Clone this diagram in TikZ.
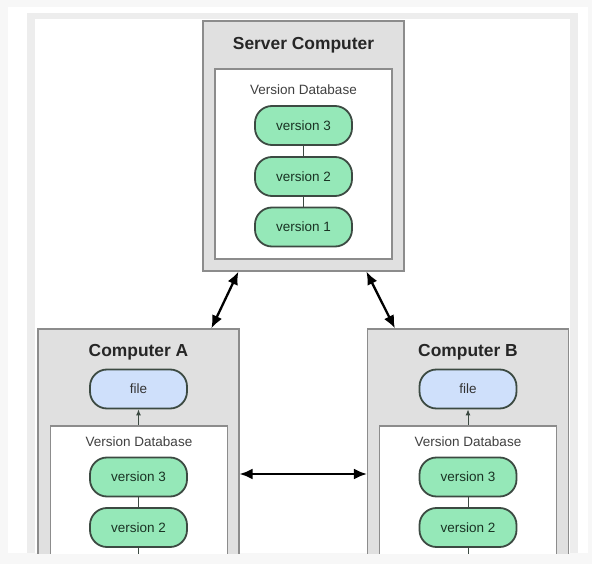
\documentclass[tikz,border=0pt]{standalone}
\usepackage{fontspec}
\setmainfont{Liberation Sans}
\usepackage{tikz}
\usetikzlibrary{arrows.meta}
\tikzset{>={Latex[length=13pt, width=11pt]}}
\definecolor{boxgray}{HTML}{E0E0E0}
\definecolor{edgegray}{HTML}{8C8C8C}
\definecolor{vergreen}{HTML}{95E8B8}
\definecolor{filblue}{HTML}{CFE0FB}
\definecolor{nodeedge}{HTML}{3C4A42}
\definecolor{vertext}{HTML}{1A3324}
\tikzset{
    machine/.style={draw=edgegray, fill=boxgray, line width=1.2pt, minimum width=201pt, inner sep=0pt},
    database/.style={draw=edgegray, fill=white, line width=1.2pt, minimum width=177pt, inner sep=0pt},
    version/.style={draw=nodeedge, fill=vergreen, text=vertext, line width=1.8pt, rounded corners=17pt,
        minimum width=97pt, minimum height=39pt, font=\fontsize{13.5}{15}\selectfont},
    workfile/.style={version, fill=filblue, text=black!80},
    title/.style={anchor=base, font=\fontsize{17.4}{20}\selectfont\bfseries, text=black!85},
    dblabel/.style={anchor=base, font=\fontsize{13.5}{15}\selectfont, text=black!75},
    sync/.style={<->, line width=2.3pt, black},
    link/.style={draw=nodeedge, line width=1pt},
}

\begin{document}
\begin{tikzpicture}[x=1pt, y=-1pt]
    \useasboundingbox(0, 0)rectangle(592, 564);
    % screen frame
    \fill[black!3](0, 0)rectangle(592, 564);
    \fill[white](8, 7)rectangle(588, 553);
    \fill[black!7](27, 13)rectangle(578, 553);
    \fill[white](35, 19)rectangle(570, 553);
    \begin{scope}
    \clip(0, 0)rectangle(592, 553);
    % server
    \node[machine, minimum height=250pt](srv)at(303.5, 146){};
    \node[database, minimum height=190pt](dbS)at(303.5, 164){};
    \node[title](tS)at(303.5, 50){Server Computer};
    \node[dblabel](lS)at(303.5, 94.7){Version Database};
    \node[version](S3)at(303.5, 125.5){version 3};
    \node[version](S2)at(303.5, 176.5){version 2};
    \node[version](S1)at(303.5, 227){version 1};
    \draw[link](S3)--(S2);
    \draw[link](S2)--(S1);
    % computer A
    \node[machine, minimum height=271pt](cmpA)at(138.5, 464.5){};
    \node[database, minimum height=174pt](dbA)at(139, 513){};
    \node[title](tA)at(138.5, 356.8){Computer A};
    \node[workfile](fA)at(138.5, 389){file};
    \node[dblabel](lA)at(139, 446.4){Version Database};
    \node[version](A3)at(138.5, 477){version 3};
    \node[version](A2)at(138.5, 527.5){version 2};
    \coordinate(A1)at(138.5, 560);
    \draw[link](A3)--(A2)--(A1);
    \draw[link, -{Latex[length=6pt, width=5pt]}](fA.south |- dbA.north)--(fA);
    % computer B
    \node[machine, minimum height=271pt](cmpB)at(468, 464.5){};
    \node[database, minimum height=174pt](dbB)at(468, 513){};
    \node[title](tB)at(468, 356.8){Computer B};
    \node[workfile](fB)at(468, 389){file};
    \node[dblabel](lB)at(468, 446.4){Version Database};
    \node[version](B3)at(468, 477){version 3};
    \node[version](B2)at(468, 527.5){version 2};
    \coordinate(B1)at(468, 560);
    \draw[link](B3)--(B2)--(B1);
    \draw[link, -{Latex[length=6pt, width=5pt]}](fB.south |- dbB.north)--(fB);
    \end{scope}
    % syncing
    \draw[sync]([xshift=36pt]srv.south west)--([xshift=174pt]cmpA.north west);
    \draw[sync]([xshift=164pt]srv.south west)--([xshift=28pt]cmpB.north west);
    \draw[sync]([yshift=-474pt]cmpA.east |- 0, 0)--([yshift=-474pt]cmpB.west |- 0, 0);
\end{tikzpicture}
\end{document}
